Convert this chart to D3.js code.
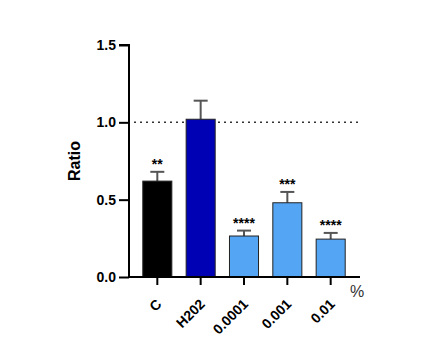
<!DOCTYPE html>
<html>
<head>
<meta charset="utf-8">
<script src="https://cdn.jsdelivr.net/npm/d3@7"></script>
<style>
  body { margin: 0; background: #fff; }
  text { font-family: "Liberation Sans", Arial, sans-serif; font-weight: bold; }
</style>
</head>
<body>
<svg width="437" height="356"></svg>
<script>
const categories = ["C", "H202", "0.0001", "0.001", "0.01"];
const means = [0.62, 1.02, 0.265, 0.48, 0.245];
const errors = [0.06, 0.12, 0.035, 0.07, 0.04];
const stars = ["**", "", "****", "***", "****"];
const yTicks = [0.0, 0.5, 1.0, 1.5];

const fills = ["#000000", "#0000b4", "#55a5f5", "#55a5f5", "#55a5f5"];

const svg = d3.select("svg");

const x = d3.scaleBand().domain(categories).range([135, 353]).paddingInner(0.33).paddingOuter(0.18);
const y = d3.scaleLinear().domain([0, 1.5]).range([277, 45]);

// y axis
const yAxis = d3.axisLeft(y).tickValues(yTicks).tickFormat(d3.format(".1f")).tickSize(10).tickPadding(3);
const gy = svg.append("g").attr("transform", "translate(129,0)").call(yAxis);
gy.select(".domain").attr("stroke-width", 2).attr("d", `M-10,${y(1.5)}H0V${y(0)}`);
gy.selectAll(".tick line").attr("stroke-width", 2);
gy.selectAll(".tick text").style("font-size", "14px").attr("fill", "#000");

// dotted reference line
svg.append("line")
  .attr("x1", 134).attr("x2", 360)
  .attr("y1", y(1)).attr("y2", y(1))
  .attr("stroke", "#333").attr("stroke-width", 1.5)
  .attr("stroke-dasharray", "2,4");

// error bars
categories.forEach((c, i) => {
  const cx = x(c) + x.bandwidth() / 2;
  const g = svg.append("g").attr("stroke", "#555").attr("stroke-width", 2);
  g.append("line").attr("x1", cx).attr("x2", cx).attr("y1", y(means[i])).attr("y2", y(means[i] + errors[i]));
  g.append("line").attr("x1", cx - 7).attr("x2", cx + 7).attr("y1", y(means[i] + errors[i])).attr("y2", y(means[i] + errors[i]));
});

// bars
svg.selectAll("rect.bar").data(categories).join("rect")
  .attr("class", "bar")
  .attr("x", d => x(d))
  .attr("width", x.bandwidth())
  .attr("y", (d, i) => y(means[i]))
  .attr("height", (d, i) => y(0) - y(means[i]))
  .attr("fill", (d, i) => fills[i])
  .attr("stroke", "#222")
  .attr("stroke-width", 1);

// significance stars
svg.selectAll("text.star").data(categories).join("text")
  .attr("class", "star")
  .attr("x", d => x(d) + x.bandwidth() / 2)
  .attr("y", (d, i) => y(means[i] + errors[i]) - 3)
  .attr("text-anchor", "middle")
  .style("font-size", "14px")
  .text((d, i) => stars[i]);

// x axis
const xAxis = d3.axisBottom(x).tickSize(8).tickPadding(4);
const gx = svg.append("g").attr("transform", `translate(0,${y(0)})`).call(xAxis);
gx.select(".domain").attr("stroke-width", 2).attr("d", `M129,0H360`);
gx.selectAll(".tick line").attr("stroke-width", 2);
gx.selectAll(".tick text")
  .style("font-size", "14px").attr("fill", "#000")
  .attr("text-anchor", "end")
  .attr("x", 0).attr("y", 0).attr("dy", 0)
  .attr("transform", "translate(5,28) rotate(-45)");

// percent unit
svg.append("text").attr("x", 350).attr("y", 297).style("font-size", "16px").style("font-weight", "normal").attr("fill", "#333").text("%");

// y label
svg.append("text")
  .attr("transform", `translate(80,${y(0.75)}) rotate(-90)`)
  .attr("text-anchor", "middle")
  .style("font-size", "16px")
  .text("Ratio");
</script>
</body>
</html>
